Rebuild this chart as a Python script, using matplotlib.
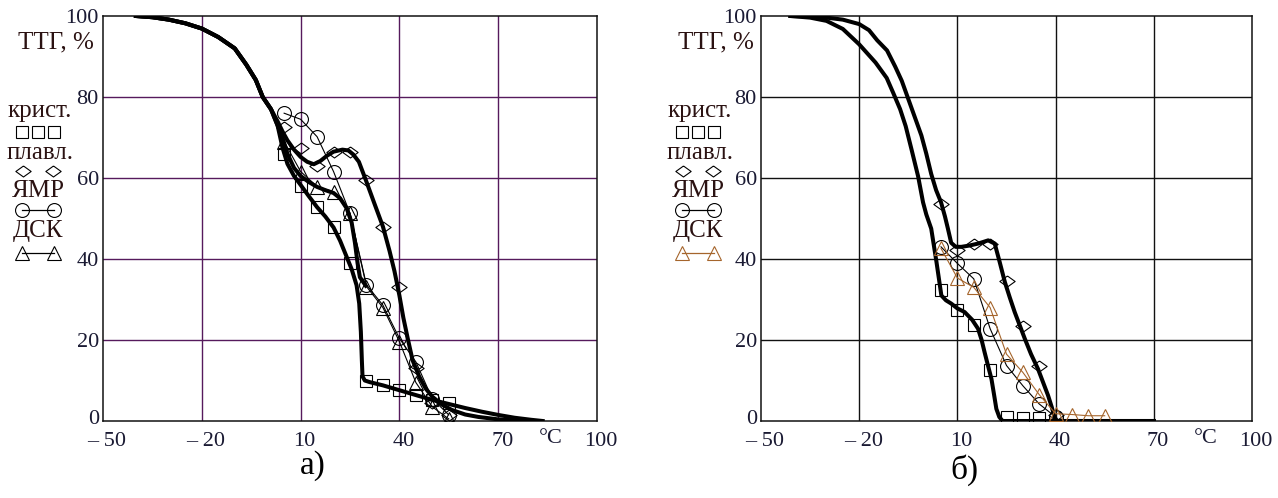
import matplotlib
matplotlib.use("Agg")
import matplotlib.pyplot as plt
from matplotlib.lines import Line2D
from matplotlib.transforms import ScaledTranslation

plt.rcParams['font.family'] = ['Liberation Serif', 'DejaVu Serif']

# ---------------- panel а) ----------------
# thick model curves
a_kr_x = [-40, -35, -30, -25, -20, -15, -10, -6.5, -3.6, -1.5, 1, 3, 4.5, 6, 8, 10, 12.5, 15,
          17.5, 20, 22, 24, 25.5, 27, 27.8, 28.3, 28.6, 28.8, 29.5, 31, 35, 40, 45, 50, 55,
          60, 65, 70, 75, 80, 83.5]
a_kr_y = [100, 99.7, 99.1, 98.2, 96.9, 94.8, 92, 88, 84.2, 80, 77, 73, 67.5, 63.5, 60.5, 58.3,
          55.5, 52.8, 50.5, 47.8, 44.5, 40.5, 37.5, 33.5, 29, 22, 15, 11, 10, 9.6, 8.8, 7.6,
          6.4, 5.2, 4.2, 3.2, 2.3, 1.5, 0.8, 0.3, 0]

a_dsc_x = [-40, -35, -30, -25, -20, -15, -10, -6.5, -3.6, -1.5, 1, 3, 4.5, 6, 8, 10, 12.5,
           15, 17.5, 20, 22, 24, 25.5, 26.5, 27.3, 28, 29.8]
a_dsc_y = [100, 99.7, 99.1, 98.2, 96.9, 94.8, 92, 88, 84.2, 80, 77, 73, 70, 66, 62.5, 60.5,
           59, 57.8, 57, 56.3, 55, 52.5, 49, 44, 39, 35.5, 33.4]

a_pl_x = [-40, -35, -30, -25, -20, -15, -10, -6.5, -3.6, -1.5, 1, 3, 4.5, 6, 8, 10, 12, 14,
          16, 18, 20, 22.7, 24.5, 26, 27.7, 29.8, 32.5, 35, 37, 38.5, 40, 41.2, 42.5, 44,
          46, 48, 50, 53, 56, 60, 64, 70, 78]
a_pl_y = [100, 99.7, 99.1, 98.2, 96.9, 94.8, 92, 88, 84.2, 80, 77, 74, 71.5, 69.3, 67, 65.2,
          64, 63.4, 64.2, 65.5, 66.5, 67, 66.8, 65.8, 64, 59.5, 53.5, 48, 42, 37, 31, 25.5,
          20.5, 15, 11, 8, 6, 4, 2.7, 1.6, 1, 0.4, 0]

# measured points
a_t = [5, 10, 15, 20, 25, 30, 35, 40, 45, 50, 55]
a_sq = [66, 58, 52.8, 47.8, 39, 10, 8.9, 7.6, 6.4, 5.2, 4.4]
a_di = [72.5, 67.3, 63, 66.5, 66.5, 59.5, 48, 33, 13, 4.5, 1.5]
a_nmr = [76, 74.5, 70.2, 61.6, 51.3, 33.6, 28.6, 20.4, 14.6, 5.5, 1.5]
a_tri = [69, 61.6, 57.9, 56.6, 51.3, 33.2, 28, 19.6, 9.5, 3.5, 0.5]

# ---------------- panel б) ----------------
b_kr_x = [-41, -35, -30, -25, -20, -15, -11.6, -9.6, -7.5, -5.8, -4, -2, -0.5, 0.5, 2, 3.6,
          5.1, 6.5, 8.1, 10, 12.2, 14.5, 16.3, 17.4, 18.3, 19.4, 20.4, 21.2, 21.9, 22.8,
          23.8, 40, 55, 70]
b_kr_y = [100, 99.6, 98.8, 96.8, 93, 88.5, 84.7, 81, 77, 72.8, 67, 60.4, 54, 51, 47.5, 39.3,
          31, 29.8, 29, 27.8, 26.9, 25, 22.8, 20, 17, 13.5, 10.4, 6.5, 3, 1, 0, 0, 0, 0]

b_pl_x = [-41, -35, -30, -25, -20, -17, -14.5, -11.5, -9, -7, -5, -3, -1, 0.5, 2, 3.5, 5,
          6.2, 7.1, 8.1, 9.5, 11.2, 13.5, 16.3, 19.4, 21.4, 22.9, 24.5, 26, 27.5, 30.6,
          32.5, 34.6, 36.2, 37.7, 38.8, 39.7, 40.5, 55, 70]
b_pl_y = [100, 99.9, 99.6, 99.1, 98, 96.5, 94, 91.5, 87.5, 84, 79.5, 75, 70.5, 66, 61, 57,
          54, 50.5, 47.5, 44, 43, 43, 43.3, 43.8, 44.6, 43.8, 39.3, 34.3, 30.5, 26.9, 20.3,
          16.5, 12.9, 9.5, 6.3, 3.5, 0.9, 0, 0, 0]

b_t_sq = [5, 10, 15, 20, 25, 30, 35]
b_sq = [32.4, 27.5, 23.6, 12.5, 1, 0.8, 0.8]
b_t_di = [5, 10, 15, 20, 25, 30, 35, 40]
b_di = [53.5, 42.2, 43.8, 43.8, 34.5, 23.5, 13.5, 1.5]
b_t_nmr = [5, 10, 15, 20, 25, 30, 35, 40]
b_nmr = [43, 38.9, 35.1, 22.8, 13.7, 8.7, 4.2, 1]
b_t_tri = [5, 10, 15, 20, 25, 30, 35, 40, 45, 50, 55]
b_tri = [42.6, 35.3, 33, 28, 16.5, 12, 6.5, 1.8, 1.6, 1.3, 1.3]

xticks = [-50, -20, 10, 40, 70, 100]
xlabels = ['– 50', '– 20', '10', '40', '70', '100']
yticks = [0, 20, 40, 60, 80, 100]

TXT = '#1a1a33'
LEG = '#2b1212'
BROWN = '#a5652c'
W, H = 1278, 498

fig = plt.figure(figsize=(W / 100, H / 100), dpi=100)

diamond = [(0, 0.72), (1, 0), (0, -0.72), (-1, 0), (0, 0.72)]
mk = dict(mfc='none', mew=0.8)


def setup(ax, gridcolor):
    ax.set_xlim(-50, 100)
    ax.set_ylim(0, 100)
    ax.set_xticks(xticks)
    ax.set_xticklabels(xlabels)
    ax.set_yticks(yticks)
    ax.tick_params(length=0, labelsize=16, labelcolor=TXT)
    ax.tick_params(axis='x', pad=8)
    ax.tick_params(axis='y', pad=3)
    for lab in ax.get_xticklabels():
        lab.set_transform(lab.get_transform() + ScaledTranslation(0.04, 0, fig.dpi_scale_trans))
    # the zero label sits a little above the corner
    zero = ax.get_yticklabels()[0]
    zero.set_transform(zero.get_transform() + ScaledTranslation(0, 0.04, fig.dpi_scale_trans))
    for v in [-20, 10, 40, 70]:
        ax.axvline(v, color=gridcolor, lw=1.0, zorder=1)
    for v in [20, 40, 60, 80]:
        ax.axhline(v, color=gridcolor, lw=1.0, zorder=1)
    for s in ax.spines.values():
        s.set_linewidth(1.1)
        s.set_color('#111111')
    ax.text(86, -2.0, '°C', ha='center', va='top', fontsize=16, color=TXT)


def legend(x0, tri_color):
    # caption block to the left of the y axis
    def fx(px):
        return px / W

    def fy(py):
        return 1 - py / H

    fig.text(fx(x0 + 18), fy(42), 'ТТГ, %', ha='center', va='center', fontsize=18, color=LEG)
    fig.text(fx(x0 + 2), fy(111), 'крист.', ha='center', va='center', fontsize=18, color=LEG)
    fig.add_artist(Line2D([fx(x0 - 16), fx(x0), fx(x0 + 16)], [fy(132)] * 3, ls='none',
                          marker='s', ms=9, color='black', **mk))
    fig.text(fx(x0 + 2), fy(153), 'плавл.', ha='center', va='center', fontsize=18, color=LEG)
    fig.add_artist(Line2D([fx(x0 - 15), fx(x0 + 15)], [fy(171)] * 2, ls='none',
                          marker=diamond, ms=11, color='black', **mk))
    fig.text(fx(x0), fy(191), 'ЯМР', ha='center', va='center', fontsize=18, color=LEG)
    fig.add_artist(Line2D([fx(x0 - 16), fx(x0 + 16)], [fy(210)] * 2, lw=0.9,
                          marker='o', ms=10, color='black', **mk))
    fig.text(fx(x0), fy(231), 'ДСК', ha='center', va='center', fontsize=18, color=LEG)
    fig.add_artist(Line2D([fx(x0 - 16), fx(x0 + 16)], [fy(253)] * 2, lw=0.9,
                          marker='^', ms=10, color=tri_color, **mk))


# panel а)
ax1 = fig.add_axes([103 / W, 1 - 421 / H, 494 / W, 405 / H])
setup(ax1, '#561a5c')
ax1.plot(a_kr_x, a_kr_y, color='black', lw=2.9, zorder=3)
ax1.plot(a_dsc_x, a_dsc_y, color='black', lw=2.9, zorder=3)
ax1.plot(a_pl_x, a_pl_y, color='black', lw=2.9, zorder=3)
ax1.plot(a_t, a_sq, ls='none', marker='s', ms=9, color='black', zorder=4, **mk)
ax1.plot(a_t, a_di, ls='none', marker=diamond, ms=11, color='black', zorder=4, **mk)
ax1.plot(a_t, a_nmr, lw=0.8, marker='o', ms=10, color='black', zorder=4, **mk)
ax1.plot(a_t, a_tri, lw=0.8, marker='^', ms=10, color='black', zorder=4, **mk)
legend(38, 'black')
fig.text(313 / W, 1 - 466 / H, 'а)', ha='center', va='center', fontsize=24, color='black')

# panel б)
ax2 = fig.add_axes([761 / W, 1 - 421 / H, 491 / W, 405 / H])
setup(ax2, '#111111')
ax2.plot(b_kr_x, b_kr_y, color='black', lw=2.9, zorder=3)
ax2.plot(b_pl_x, b_pl_y, color='black', lw=2.9, zorder=3)
ax2.plot(b_t_sq, b_sq, ls='none', marker='s', ms=9, color='black', zorder=4, **mk)
ax2.plot(b_t_di, b_di, ls='none', marker=diamond, ms=11, color='black', zorder=4, **mk)
ax2.plot(b_t_nmr, b_nmr, lw=0.8, marker='o', ms=10, color='black', zorder=4, **mk)
ax2.plot(b_t_tri, b_tri, lw=0.8, marker='^', ms=10, color=BROWN, zorder=5, **mk)
legend(698, BROWN)
fig.text(964 / W, 1 - 470 / H, 'б)', ha='center', va='center', fontsize=24, color='black')

fig.savefig('out.png', dpi=100)
